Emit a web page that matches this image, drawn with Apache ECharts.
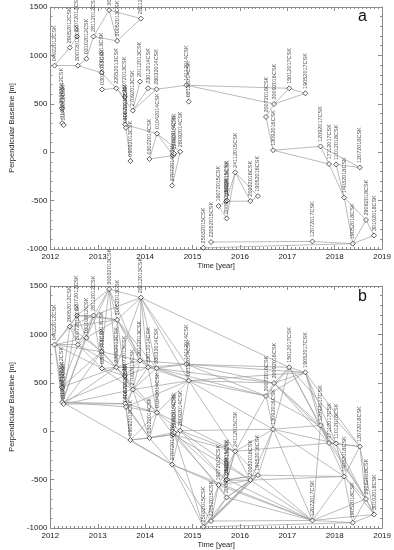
<!DOCTYPE html>
<html><head><meta charset="utf-8">
<script src="https://cdn.jsdelivr.net/npm/echarts@6/dist/echarts.min.js"></script>
<style>html,body{margin:0;padding:0;background:#fff}#c{width:394px;height:550px}</style>
</head><body><div id="c"></div>
<script>
// acquisitions (label, decimal year, perpendicular baseline [m])
const acqLabel = ["04022012CSK","26032012CSK","01042012CSK","11042012CSK","29052012CSK","22072012CSK","30072012CSK","03102012CSK","28112012CSK","30012013CSK",
"03022013CSK","30032013CSK","22052013CSK","30052013CSK","26072013CSK","30072013CSK","04082013CSK","09092013CSK","27092013CSK","20112013CSK",
"28112013CSK","23012014CSK","03022014CSK","28032014CSK","01042014CSK","27072014CSK","04082014CSK","12082014CSK","28092014CSK","14112014CSK",
"02122014CSK","25032015CSK","22052015CSK","19072015CSK","16092015CSK","24092015CSK","20092015CSK","24112015CSK","20032016CSK","19052016CSK",
"20072016CSK","20092016CSK","13092016CSK","15012017CSK","19052017CSK","12072017CSK","12092017CSK","17112017CSK","11012018CSK","14032018CSK",
"19052018CSK","12072018CSK","29082018CSK","30102018CSK"];
const acqYear = [2012.09,2012.24,2012.25,2012.28,2012.41,2012.56,2012.58,2012.76,2012.91,2013.08,
2013.09,2013.24,2013.39,2013.41,2013.57,2013.58,2013.595,2013.69,2013.74,2013.89,
2013.91,2014.06,2014.09,2014.24,2014.25,2014.57,2014.59,2014.61,2014.74,2014.87,
2014.92,2015.23,2015.39,2015.55,2015.71,2015.73,2015.72,2015.90,2016.22,2016.38,
2016.55,2016.72,2016.70,2017.04,2017.38,2017.53,2017.70,2017.88,2018.03,2018.20,
2018.38,2018.53,2018.66,2018.83];
const acqBperp = [894,455,300,280,1080,1195,894,965,1195,821,
648,1468,660,1150,572,284,252,-92,430,730,
1380,660,-70,650,192,-345,-35,-15,5,692,
522,-988,-928,-556,-508,-500,-684,-208,-505,-454,
364,498,20,660,608,-922,60,-122,-127,-468,
-945,-158,-700,-860];

// interferometric pairs, panel a
const pairsA = [[0,4],[0,6],[4,5],[6,7],[7,8],[8,11],[8,13],[11,13],[11,20],[13,20],
[6,9],[9,12],[10,12],[12,14],[12,18],[14,15],[15,16],[15,24],[16,17],[18,19],[18,21],[18,23],[21,23],
[23,29],[29,30],[29,43],[29,41],[41,43],[41,44],[43,44],[41,40],[40,42],[42,46],[42,47],[46,47],
[46,51],[47,49],[48,49],[48,51],[49,50],[49,52],[50,52],[50,53],[52,53],[45,50],[31,50],[32,45],
[22,24],[22,26],[24,26],[24,28],[26,25],[26,28],[25,28],
[33,34],[33,36],[34,38],[36,37],[34,37],[37,38],[37,39],[38,39]];

// interferometric pairs, panel b
const pairsB = [[0,1],[0,2],[0,4],[0,5],[0,6],[0,7],[0,9],[0,10],
[1,2],[1,3],[1,4],[1,6],[1,9],[1,12],
[2,3],[2,5],[2,7],[2,8],[2,14],[2,15],[2,16],[2,25],
[3,9],[3,12],[3,15],[3,18],
[4,5],[4,6],[4,8],[4,9],[4,13],
[5,7],[5,8],[5,11],[5,13],
[6,7],[6,8],[6,10],[6,12],
[7,8],[7,9],[7,11],[7,13],
[8,11],[8,13],[8,20],[8,10],
[9,10],[9,11],[9,12],[9,14],[9,19],
[10,12],[10,14],[10,18],
[11,13],[11,20],[11,12],[11,19],
[12,13],[12,14],[12,18],[12,19],[12,21],
[13,14],[13,19],[13,20],[13,21],[13,23],
[14,15],[14,18],[14,19],[14,21],[14,24],
[15,16],[15,17],[15,18],[15,22],[15,24],
[16,17],[16,18],[16,22],[16,24],[16,30],
[17,22],[17,24],[17,25],[17,26],
[18,19],[18,21],[18,22],[18,23],[18,24],[18,30],
[19,20],[19,21],[19,23],[19,29],
[20,21],[20,23],[20,29],[20,43],[20,30],[20,12],
[21,23],[21,24],[21,29],[21,30],
[22,24],[22,26],[22,28],[22,25],
[23,24],[23,29],[23,30],[23,40],[23,41],
[24,26],[24,28],[24,30],[24,37],
[25,26],[25,28],[25,31],[25,32],[25,33],[25,45],
[26,27],[26,28],[26,33],[26,37],[26,38],
[27,31],[27,34],[27,36],
[28,30],[28,34],[28,37],[28,38],[28,42],
[29,30],[29,40],[29,41],[29,43],[29,44],
[30,37],[30,40],[30,41],[30,42],[30,44],
[31,32],[31,33],[31,36],[31,38],[31,39],[31,50],
[32,33],[32,36],[32,38],[32,39],[32,45],
[33,34],[33,36],[33,37],[33,38],[33,45],
[34,35],[34,37],[34,38],[34,39],
[35,37],[35,39],[35,45],
[36,38],[36,39],[36,45],
[37,38],[37,39],[37,40],[37,42],[37,47],
[38,39],[38,42],[38,45],[38,49],
[39,42],[39,45],[39,49],
[40,41],[40,42],[40,43],[40,44],[40,46],
[41,43],[41,44],[41,46],[41,47],[41,48],
[42,43],[42,45],[42,46],[42,48],[42,49],
[43,44],[43,46],[43,47],[43,51],
[44,46],[44,47],[44,48],[44,51],
[45,46],[45,49],[45,50],[45,52],[45,53],
[46,47],[46,48],[46,49],[46,52],
[47,48],[47,51],[47,52],
[48,49],[48,51],[48,53],
[49,50],[49,51],[49,52],[49,53],
[50,52],[50,53],[51,52],[51,53],[52,53]];

const yearTicks = [2012,2013,2014,2015,2016,2017,2018,2019];
const bperpTicks = [-1000,-500,0,500,1000,1500];
const panelLetters = ["a","b"];

const FONT = "Liberation Sans, Arial, sans-serif";
const AX = '#8a8a8a';
const grids = [
  {left:31, right:11, top:7, height:242},
  {left:31, right:11, top:286, height:242}
];
function xAx(g, pos){
  return {type:'value', gridIndex:g, position:pos, min:yearTicks[0], max:yearTicks[yearTicks.length-1], interval:1,
    axisLine:{show:true, onZero:false, lineStyle:{color:AX, width:1}},
    axisTick:{show:true, inside:true, length:4, lineStyle:{color:AX}},
    minorTick:{show:true, splitNumber:12, length:2, lineStyle:{color:AX}},
    splitLine:{show:false},
    axisLabel:{show:pos==='bottom', margin:4, fontSize:8, fontFamily:FONT, color:'#222', showMinLabel:true, showMaxLabel:true, formatter:v=>String(v)},
    name: pos==='bottom' ? 'Time [year]' : '', nameLocation:'middle', nameGap:13,
    nameTextStyle:{fontSize:7.5, fontFamily:FONT, color:'#222'}};
}
function yAx(g, pos){
  return {type:'value', gridIndex:g, position:pos, min:bperpTicks[0], max:bperpTicks[bperpTicks.length-1], interval:500,
    axisLine:{show:true, onZero:false, lineStyle:{color:AX, width:1}},
    axisTick:{show:true, inside:true, length:4, lineStyle:{color:AX}},
    minorTick:{show:true, splitNumber:5, length:2, lineStyle:{color:AX}},
    splitLine:{show:false},
    axisLabel:{show:pos==='left', margin:3, fontSize:8, fontFamily:FONT, color:'#222', showMinLabel:true, showMaxLabel:true, formatter:v=>String(v)},
    name: pos==='left' ? 'Perpendicular Baseline [m]' : '', nameLocation:'middle', nameGap:24,
    nameTextStyle:{fontSize:7.5, fontFamily:FONT, color:'#222'}};
}
const xAxes=[], yAxes=[];
[0,1].forEach(g=>{ xAxes.push(xAx(g,'bottom')); xAxes.push(xAx(g,'top')); yAxes.push(yAx(g,'left')); yAxes.push(yAx(g,'right')); });

function pairLines(pairs){
  return pairs.map(([i,j])=>({coords:[[acqYear[i],acqBperp[i]],[acqYear[j],acqBperp[j]]]}));
}
const nodes = acqYear.map((x,i)=>[x, acqBperp[i], acqLabel[i]]);
const series=[];
[pairsA, pairsB].forEach((pairs,g)=>{
  series.push({type:'lines', coordinateSystem:'cartesian2d', xAxisIndex:2*g, yAxisIndex:2*g, polyline:false,
    silent:true, z:2, lineStyle:{color:'#9e9e9e', width:0.7, opacity:1}, data:pairLines(pairs)});
  series.push({type:'scatter', xAxisIndex:2*g, yAxisIndex:2*g, symbol:'diamond', symbolSize:5, z:3,
    itemStyle:{color:'#fff', borderColor:'#222', borderWidth:0.9},
    label:{show:true, formatter:p=>p.data[2], position:'top', distance:1.5, rotate:90, align:'left', verticalAlign:'middle',
      fontSize:5.5, fontFamily:FONT, color:'#1a1a1a'},
    labelLayout:{hideOverlap:false},
    data:nodes});
});

const chart = echarts.init(document.getElementById('c'), null, {renderer:'canvas'});
chart.setOption({
  animation:false,
  grid:grids,
  xAxis:xAxes, yAxis:yAxes,
  graphic:[
    {type:'text', left:358, top:9, style:{text:panelLetters[0], fontSize:16, fontFamily:FONT, fill:'#111'}},
    {type:'text', left:358, top:289, style:{text:panelLetters[1], fontSize:16, fontFamily:FONT, fill:'#111'}}
  ],
  series:series
});
</script></body></html>
